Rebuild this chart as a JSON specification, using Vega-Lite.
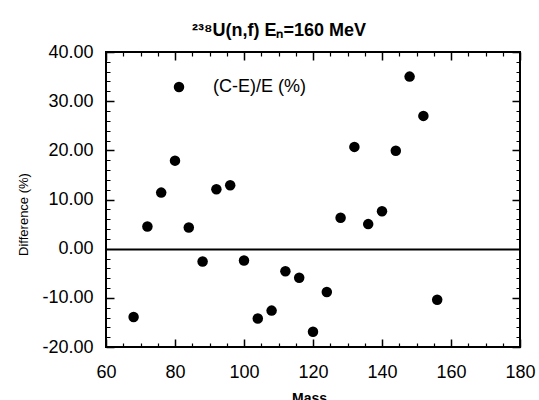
{
  "$schema": "https://vega.github.io/schema/vega-lite/v6.json",
  "width": 414,
  "height": 295,
  "autosize": {"type": "none"},
  "padding": {"left": 106, "top": 52, "right": 19, "bottom": 53},
  "background": "white",
  "title": {
    "text": "²³⁸U(n,f) Eₙ=160 MeV",
    "font": "Liberation Sans",
    "fontSize": 18,
    "fontWeight": "bold",
    "color": "black",
    "anchor": "start",
    "frame": "group",
    "dx": 86,
    "baseline": "alphabetic",
    "offset": -11
  },
  "config": {
    "view": {"stroke": "black", "strokeWidth": 2}
  },
  "data": {
    "values": [
      {"mass": 68, "diff": -13.9},
      {"mass": 72, "diff": 4.5},
      {"mass": 76, "diff": 11.4},
      {"mass": 80, "diff": 17.9},
      {"mass": 84, "diff": 4.3},
      {"mass": 88, "diff": -2.6},
      {"mass": 92, "diff": 12.1},
      {"mass": 96, "diff": 12.9},
      {"mass": 100, "diff": -2.4},
      {"mass": 104, "diff": -14.2},
      {"mass": 108, "diff": -12.6},
      {"mass": 112, "diff": -4.6},
      {"mass": 116, "diff": -5.9},
      {"mass": 120, "diff": -16.9},
      {"mass": 124, "diff": -8.8},
      {"mass": 128, "diff": 6.3},
      {"mass": 132, "diff": 20.7},
      {"mass": 136, "diff": 5.0},
      {"mass": 140, "diff": 7.6},
      {"mass": 144, "diff": 19.9},
      {"mass": 148, "diff": 35.0},
      {"mass": 152, "diff": 27.0},
      {"mass": 156, "diff": -10.4}
    ]
  },
  "mark": {"type": "point", "filled": true, "opacity": 1, "size": 110},
  "encoding": {
    "x": {
      "field": "mass", "type": "quantitative",
      "scale": {"domain": [60, 180], "nice": false, "zero": false},
      "axis": {
        "orient": "bottom",
        "values": [60,65,70,75,80,85,90,95,100,105,110,115,120,125,130,135,140,145,150,155,160,165,170,175,180],
        "ticks": true, "tickSize": 0, "domain": false,
        "grid": true, "gridColor": "black", "gridOpacity": 1,
        "gridWidth": {"condition": {"test": "datum.value % 20 === 0", "value": 1.5}, "value": 1.2},
        "gridDash": {"condition": {"test": "datum.value % 20 === 0", "value": [8, 279, 8, 100]}, "value": [4, 287, 4, 100]},
        "labelExpr": "datum.value % 20 === 0 ? '' + datum.value : ''",
        "labelFont": "Liberation Sans", "labelFontSize": 18, "labelPadding": 16, "labelColor": "black",
        "labelFlush": false, "labelOverlap": false,
        "title": "Mass", "titleFont": "Liberation Sans", "titleFontSize": 14, "titleFontWeight": "bold", "titleColor": "black",
        "titleBaseline": "top", "titleX": 203, "titleY": 44
      }
    },
    "y": {
      "field": "diff", "type": "quantitative",
      "scale": {"domain": [-20, 40], "nice": false, "zero": false},
      "axis": {
        "orient": "left",
        "values": [-20,-18,-16,-14,-12,-10,-8,-6,-4,-2,0,2,4,6,8,10,12,14,16,18,20,22,24,26,28,30,32,34,36,38,40],
        "ticks": true, "tickSize": 0, "domain": false,
        "grid": true, "gridColor": "black", "gridOpacity": 1,
        "gridWidth": {"condition": [{"test": "datum.value === 0", "value": 2}, {"test": "datum.value % 10 === 0", "value": 1.5}], "value": 1.2},
        "gridDash": {"condition": [{"test": "datum.value === 0", "value": [600, 1]}, {"test": "datum.value % 10 === 0", "value": [8, 398, 8, 100]}], "value": [4, 406, 4, 100]},
        "labelExpr": "datum.value % 10 === 0 ? datum.value + '.00' : ''",
        "labelFont": "Liberation Sans", "labelFontSize": 18, "labelPadding": 13, "labelColor": "black",
        "labelFlush": false, "labelOverlap": false,
        "title": "Difference (%)", "titleFont": "Liberation Sans", "titleFontSize": 13, "titleFontWeight": "normal", "titleColor": "black",
        "titleAngle": -90, "titleAlign": "center", "titleBaseline": "middle", "titleX": -83, "titleY": 162
      }
    },
    "color": {
      "datum": "(C-E)/E (%)", "type": "nominal",
      "scale": {"range": ["black"]},
      "legend": {
        "orient": "none", "legendX": 64, "legendY": 26, "title": null,
        "labelFont": "Liberation Sans", "labelFontSize": 18, "labelColor": "black",
        "labelOffset": 25, "symbolSize": 110, "symbolType": "circle", "symbolStrokeWidth": 0
      }
    }
  }
}
